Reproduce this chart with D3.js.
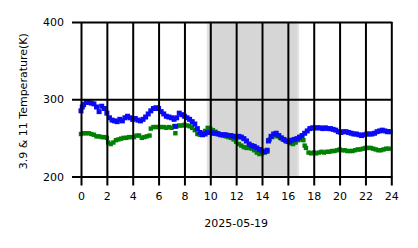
<!DOCTYPE html>
<html>
<head>
<meta charset="utf-8">
<script src="https://cdn.jsdelivr.net/npm/d3@7"></script>
<style>
html,body{margin:0;padding:0;background:#fff;}
text{font-family:"DejaVu Sans",sans-serif;font-size:11px;fill:#000;}
</style>
</head>
<body>
<svg id="chart" width="418" height="248"></svg>
<script>
// ---- data ----
const xTicks = [0,2,4,6,8,10,12,14,16,18,20,22,24];
const yTicks = [200,300,400];
const dateLabel = "2025-05-19";
const yLabel = "3.9 & 11 Temperature(K)";
const shadeSpan = [9.8, 16.8];

const blue39 = [
 [0.0,285],[0.1,290],[0.2,293],[0.4,296],[0.6,296],[0.8,295],[1.0,294],[1.2,290],[1.4,284],[1.6,291],[1.8,288],
 [2.0,282],[2.2,276],[2.4,273],[2.6,272],[2.8,271],[3.0,274],[3.2,272],[3.4,276],[3.6,278],[3.8,276],
 [4.0,274],[4.2,275],[4.4,273],[4.6,272],[4.8,274],[5.0,277],[5.2,281],[5.4,285],[5.6,288],[5.8,289],
 [6.0,288],[6.2,284],[6.4,281],[6.6,278],[6.8,277],[7.0,276],[7.2,274],[7.3,265],[7.4,276],[7.6,282],[7.8,280],
 [8.0,278],[8.2,276],[8.4,274],[8.6,271],[8.8,268],[9.0,262],[9.2,257],[9.4,254],[9.6,255],[9.8,257],
 [10.0,257],[10.2,256],[10.4,256],[10.6,255],[10.8,254],[11.0,254],[11.2,254],[11.4,253],[11.6,253],[11.8,252],
 [12.0,251],[12.2,252],[12.4,251],[12.6,249],[12.8,246],[13.0,242],[13.2,240],[13.4,239],[13.6,237],[13.8,235],
 [14.0,233],[14.2,232],[14.4,234],[14.5,246],[14.7,252],[14.9,255],[15.1,256],[15.3,253],[15.5,250],[15.7,248],
 [15.9,246],[16.1,245],[16.3,247],[16.5,248],[16.7,249],[16.9,251],[17.1,253],[17.3,256],[17.5,259],[17.7,262],
 [17.9,263],[18.1,263],[18.3,263],[18.5,263],[18.7,262],[18.9,263],[19.1,262],[19.3,262],[19.5,261],[19.7,260],
 [19.9,258],[20.1,257],[20.3,258],[20.5,258],[20.7,257],[20.9,256],[21.1,255],[21.3,255],[21.5,254],[21.7,253],
 [21.9,254],[22.1,255],[22.3,255],[22.5,255],[22.7,256],[22.9,258],[23.1,259],[23.3,260],[23.5,259],[23.7,258],[23.9,258]
];

const green11 = [
 [0.0,255],[0.2,256],[0.4,256],[0.6,256],[0.8,255],[1.0,254],[1.2,252],[1.4,252],[1.6,251],[1.8,251],
 [2.0,250],[2.1,244],[2.3,242],[2.5,244],[2.7,247],[2.9,248],[3.1,249],[3.3,250],[3.5,250],[3.7,251],
 [3.9,251],[4.1,251],[4.3,253],[4.5,253],[4.7,250],[4.9,251],[5.1,252],[5.3,253],[5.4,262],[5.6,264],
 [5.8,264],[6.0,264],[6.2,264],[6.4,264],[6.6,263],[6.8,264],[7.0,263],[7.2,265],[7.3,256],[7.4,265],
 [7.6,266],[7.8,266],[8.0,267],[8.2,266],[8.4,265],[8.6,263],[8.8,260],[9.0,255],[9.2,254],[9.4,256],
 [9.6,259],[9.8,263],[10.0,262],[10.2,260],[10.4,258],[10.6,256],[10.8,254],[11.0,253],[11.2,252],[11.4,251],
 [11.6,250],[11.8,248],[12.0,245],[12.2,242],[12.4,240],[12.6,238],[12.8,237],[13.0,237],[13.2,236],[13.4,234],
 [13.6,231],[13.8,229],[14.0,230],[14.2,231],[14.4,232],[14.5,247],[14.6,248],[14.8,251],[15.0,253],[15.2,252],
 [15.4,250],[15.6,248],[15.8,246],[16.0,245],[16.2,243],[16.4,242],[16.6,244],[16.8,247],[17.0,248],[17.2,247],
 [17.3,240],[17.4,237],[17.6,231],[17.8,230],[18.0,231],[18.2,230],[18.4,231],[18.6,232],[18.8,231],[19.0,232],
 [19.2,232],[19.4,233],[19.6,233],[19.8,234],[20.0,235],[20.2,234],[20.4,234],[20.6,233],[20.8,233],[21.0,233],
 [21.2,234],[21.4,235],[21.6,235],[21.8,236],[22.0,237],[22.2,237],[22.4,237],[22.6,236],[22.8,235],[23.0,234],
 [23.2,234],[23.4,235],[23.6,236],[23.8,236]
];

// ---- layout ----
const svg = d3.select("#chart");
const x = d3.scaleLinear().domain([0,24]).range([81,391.3]);
const y = d3.scaleLinear().domain([200,400]).range([176.5,22]);
const plotTop = y(400), plotBottom = y(200);

// shaded span
svg.append("rect")
  .attr("x", x(shadeSpan[0])).attr("y", plotTop)
  .attr("width", x(shadeSpan[1]) - x(shadeSpan[0]))
  .attr("height", plotBottom - plotTop)
  .attr("fill", "#d6d6d6")
  .attr("stroke", "#e3e3e3").attr("stroke-width", 2);

// data markers
function drawSeries(data, color, ms){
  svg.append("g").selectAll("rect").data(data).join("rect")
    .attr("x", d => x(d[0]) - ms/2)
    .attr("y", d => y(d[1]) - ms/2)
    .attr("width", ms).attr("height", ms)
    .attr("fill", color);
}
drawSeries(green11, "#008000", 4.4);
drawSeries(blue39, "#0a0af5", 5);

// grid + ticks (drawn on top)
const xAxis = d3.axisBottom(x).tickValues(xTicks).tickFormat(d3.format("d"))
  .tickSizeInner(9).tickSizeOuter(0).tickPadding(5);
const gx = svg.append("g").attr("transform", `translate(0,${plotBottom})`).call(xAxis);
gx.select(".domain").remove();
gx.selectAll(".tick line").attr("y1", -(plotBottom - plotTop)).attr("stroke", "#000").attr("stroke-width", 2);
gx.selectAll(".tick text").attr("font-size", 10.5).attr("font-family", "DejaVu Sans").attr("dy", "0.9em");

const yAxis = d3.axisLeft(y).tickValues(yTicks).tickFormat(d3.format("d"))
  .tickSizeInner(9).tickSizeOuter(0).tickPadding(8);
const gy = svg.append("g").attr("transform", `translate(${x(0)},0)`).call(yAxis);
gy.select(".domain").remove();
gy.selectAll(".tick line").attr("x2", x(24) - x(0) + 1).attr("x1", -9).attr("stroke", "#000").attr("stroke-width", 2);
gy.selectAll(".tick text").attr("font-size", 10.5).attr("font-family", "DejaVu Sans");

// titles
svg.append("text").attr("x", (x(0)+x(24))/2).attr("y", 227)
  .attr("text-anchor", "middle").attr("font-size", 10.5).text(dateLabel);
svg.append("text")
  .attr("transform", `translate(27,${(plotTop+plotBottom)/2 + 2}) rotate(-90)`)
  .attr("text-anchor", "middle").attr("font-size", 10.5).text(yLabel);
</script>
</body>
</html>
